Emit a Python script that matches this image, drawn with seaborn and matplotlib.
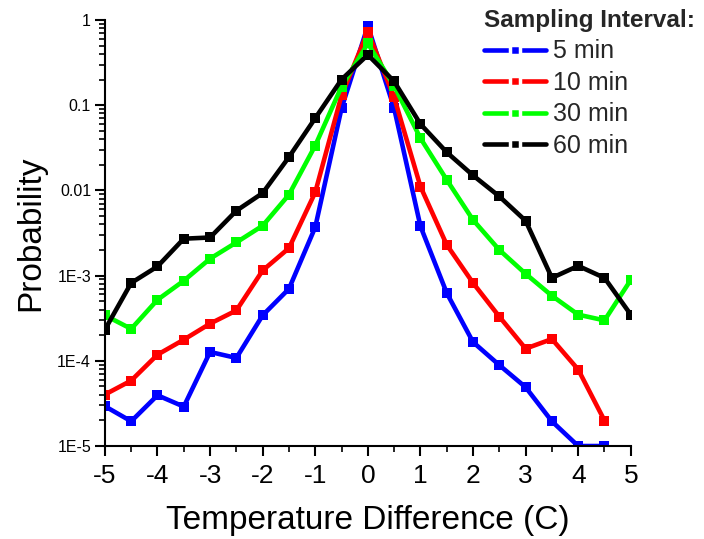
import numpy as np
import pandas as pd
import matplotlib
matplotlib.use("Agg")
import matplotlib.pyplot as plt
import seaborn as sns
from matplotlib.lines import Line2D
from matplotlib.ticker import FixedLocator, FixedFormatter, LogLocator, NullFormatter, MultipleLocator

# ---- data ----
temp_diff = [-5, -4.5, -4, -3.5, -3, -2.5, -2, -1.5, -1, -0.5, 0,
             0.5, 1, 1.5, 2, 2.5, 3, 3.5, 4, 4.5, 5]
prob_5min = [2.93e-5, 1.95e-5, 3.94e-5, 2.9e-5, 1.27e-4, 1.08e-4, 3.42e-4, 7.0e-4, 3.7e-3, 0.092, 0.85,
             0.092, 3.8e-3, 6.25e-4, 1.66e-4, 8.9e-5, 4.9e-5, 1.95e-5, 1.0e-5, 1.0e-5, np.nan]
prob_10min = [4.02e-5, 5.86e-5, 1.18e-4, 1.77e-4, 2.73e-4, 3.9e-4, 1.15e-3, 2.1e-3, 9.5e-3, 0.13, 0.73,
              0.124, 0.0111, 2.3e-3, 8.2e-4, 3.3e-4, 1.39e-4, 1.8e-4, 7.9e-5, 1.99e-5, np.nan]
prob_30min = [3.42e-4, 2.37e-4, 5.2e-4, 8.7e-4, 1.58e-3, 2.45e-3, 3.85e-3, 8.9e-3, 0.0336, 0.165, 0.53,
              0.168, 0.041, 0.0133, 4.5e-3, 2.0e-3, 1.05e-3, 5.8e-4, 3.48e-4, 2.98e-4, 8.9e-4]
prob_60min = [2.32e-4, 8.2e-4, 1.28e-3, 2.71e-3, 2.8e-3, 5.77e-3, 9.3e-3, 0.0246, 0.0704, 0.2, 0.39,
              0.19, 0.06, 0.028, 0.015, 8.5e-3, 4.4e-3, 9.4e-4, 1.3e-3, 9.4e-4, 3.48e-4]

series_labels = ["5 min", "10 min", "30 min", "60 min"]
series_colors = ["#0000ff", "#ff0000", "#00ff00", "#000000"]
legend_title = "Sampling Interval:"
x_label = "Temperature Difference (C)"
y_label = "Probability"
x_ticks = [-5, -4, -3, -2, -1, 0, 1, 2, 3, 4, 5]
y_ticks = [1e-5, 1e-4, 1e-3, 1e-2, 1e-1, 1]
y_tick_labels = ["1E-5", "1E-4", "1E-3", "0.01", "0.1", "1"]

rows = []
for lab, vals in zip(series_labels, [prob_5min, prob_10min, prob_30min, prob_60min]):
    for xv, yv in zip(temp_diff, vals):
        if not np.isnan(yv):
            rows.append({"x": xv, "y": yv, "series": lab})
df = pd.DataFrame(rows)

sns.set_theme(style="white")
plt.rcParams["font.family"] = ["Liberation Sans", "DejaVu Sans"]

fig = plt.figure(figsize=(7.04, 5.39), dpi=100)
ax = fig.add_axes([0.149, 0.1725, 0.747, 0.7905])

sns.lineplot(data=df, x="x", y="y", hue="series", hue_order=series_labels,
             palette=series_colors, style="series", markers=["s"] * 4, dashes=False,
             estimator=None, linewidth=3.3, markersize=6.5, markeredgewidth=0,
             legend=False, ax=ax)

ax.set_yscale("log")
ax.set_xlim(-5, 5)
ax.set_ylim(1e-5, 1)

ax.xaxis.set_major_locator(FixedLocator(x_ticks))
ax.xaxis.set_minor_locator(MultipleLocator(0.5))
ax.yaxis.set_major_locator(FixedLocator(y_ticks))
ax.yaxis.set_major_formatter(FixedFormatter(y_tick_labels))
ax.yaxis.set_minor_locator(LogLocator(base=10, subs=np.arange(2, 10)))
ax.yaxis.set_minor_formatter(NullFormatter())
ax.set_xticklabels([str(t) for t in x_ticks])

for s in ["top", "right"]:
    ax.spines[s].set_visible(False)
for s in ["left", "bottom"]:
    ax.spines[s].set_color("black")
    ax.spines[s].set_linewidth(1.5)

ax.tick_params(axis="both", which="major", direction="out", length=7, width=1.5, color="black")
ax.tick_params(axis="both", which="minor", direction="out", length=4, width=1.2, color="black")
ax.tick_params(axis="x", which="major", labelsize=19, pad=6, labelcolor="black")
ax.tick_params(axis="y", which="major", labelsize=11.5, pad=3, labelcolor="black")
ax.tick_params(left=True, bottom=True, which="both")

ax.set_xlabel(x_label, fontsize=24, color="black", labelpad=12)
ax.set_ylabel(y_label, fontsize=24, color="black", labelpad=8)
ax.grid(False)

handles = [Line2D([0], [0], color=c, linewidth=3.3, marker="s", markersize=7,
                  markerfacecolor=c, markeredgecolor="white", markeredgewidth=2.5)
           for c in series_colors]
leg = fig.legend(handles, series_labels, title=legend_title, loc="upper left",
                 bbox_to_anchor=(0.675, 1.0), frameon=False, fontsize=18,
                 title_fontproperties={"weight": "bold", "size": 17.5},
                 handlelength=2.5, handletextpad=0.25, labelspacing=0.3,
                 borderaxespad=0.0, borderpad=0.35, alignment="left")

fig.savefig("out.png", dpi=100)
